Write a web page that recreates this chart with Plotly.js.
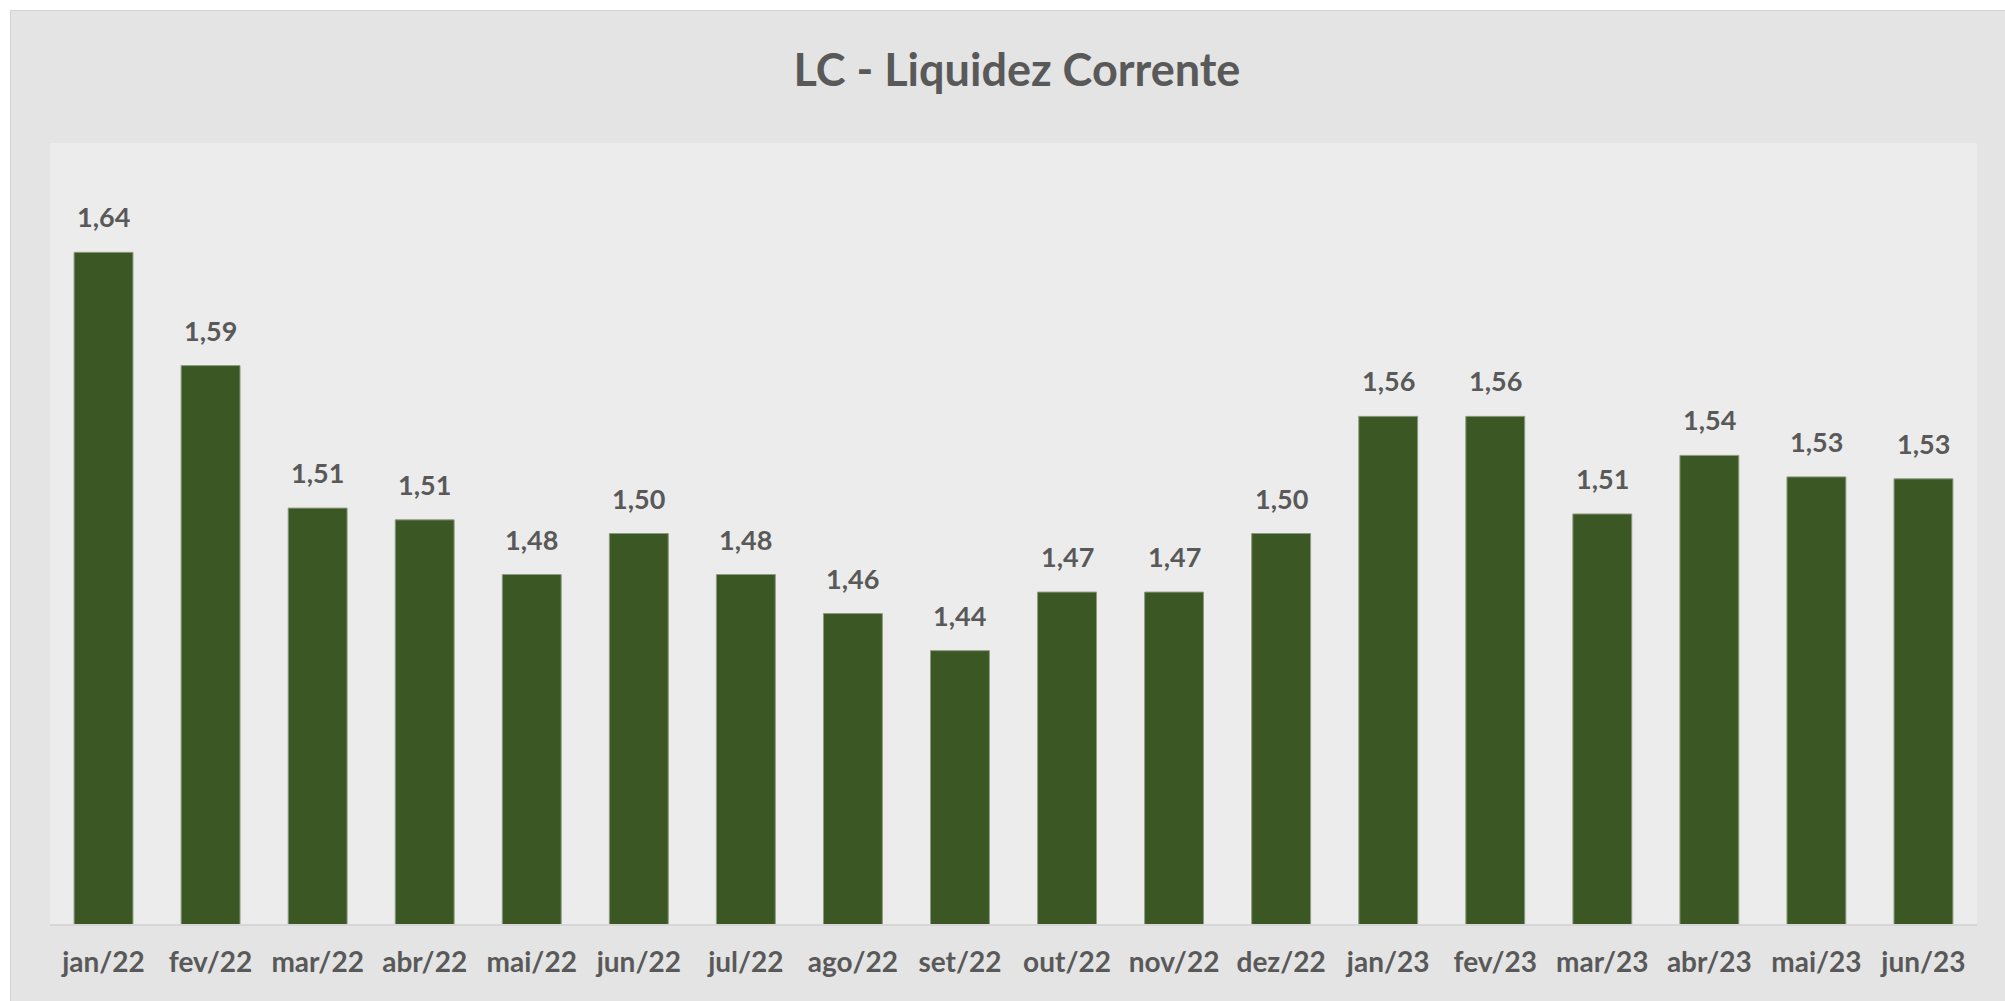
<!DOCTYPE html>
<html>
<head>
<meta charset="utf-8">
<script src="https://cdn.plot.ly/plotly-3.0.1.min.js"></script>
<style>
  html, body { margin: 0; padding: 0; background: #ffffff; width: 2005px; height: 1001px; overflow: hidden; }
  #chart { position: absolute; left: 10px; top: 10px; width: 1995px; height: 991px;
           border-left: 1px solid #d4d4d4; border-top: 1px solid #d4d4d4; box-sizing: border-box; }
</style>
</head>
<body>
<div id="chart"></div>
<script>
const months = ["jan/22","fev/22","mar/22","abr/22","mai/22","jun/22","jul/22","ago/22","set/22",
                "out/22","nov/22","dez/22","jan/23","fev/23","mar/23","abr/23","mai/23","jun/23"];
const lcValues = [1.644, 1.586, 1.513, 1.507, 1.479, 1.500, 1.479, 1.459, 1.440,
                  1.470, 1.470, 1.500, 1.560, 1.560, 1.510, 1.540, 1.529, 1.528];
const chartTitle = "LC - Liquidez Corrente";

const fmt = v => v.toFixed(2).replace('.', ',');
const textColor = '#595959';
const fontFam = 'Lato, "Open Sans", sans-serif';

const trace = {
  type: 'bar',
  x: months,
  y: lcValues,
  marker: { color: '#3b5724', line: { color: '#8c9a80', width: 1 } },
  hoverinfo: 'skip'
};

const annotations = months.map((m, i) => ({
  x: m, y: lcValues[i], xref: 'x', yref: 'y',
  text: fmt(lcValues[i]), showarrow: false,
  yanchor: 'bottom', yshift: 17,
  font: { family: fontFam, size: 27, color: textColor, weight: 'bold' }
}));

const layout = {
  width: 1994, height: 990,
  paper_bgcolor: '#e4e4e4',
  plot_bgcolor: '#ececec',
  margin: { l: 39, r: 28, t: 132, b: 77 },
  title: { text: '<b>' + chartTitle + '</b>', x: 0.5045, xanchor: 'center', y: 0.94, yanchor: 'middle',
           font: { family: fontFam, size: 45, color: textColor } },
  bargap: 0.45,
  showlegend: false,
  xaxis: {
    type: 'category',
    showgrid: false, zeroline: false,
    showline: true, linecolor: '#d6d6d6', linewidth: 2,
    ticks: '', ticklabelstandoff: 12,
    tickfont: { family: fontFam, size: 28, color: textColor, weight: 'bold' }
  },
  yaxis: {
    range: [1.3, 1.7],
    visible: false, showgrid: false, zeroline: false
  },
  annotations: annotations
};

Plotly.newPlot('chart', [trace], layout, { staticPlot: true, displayModeBar: false });
</script>
</body>
</html>
